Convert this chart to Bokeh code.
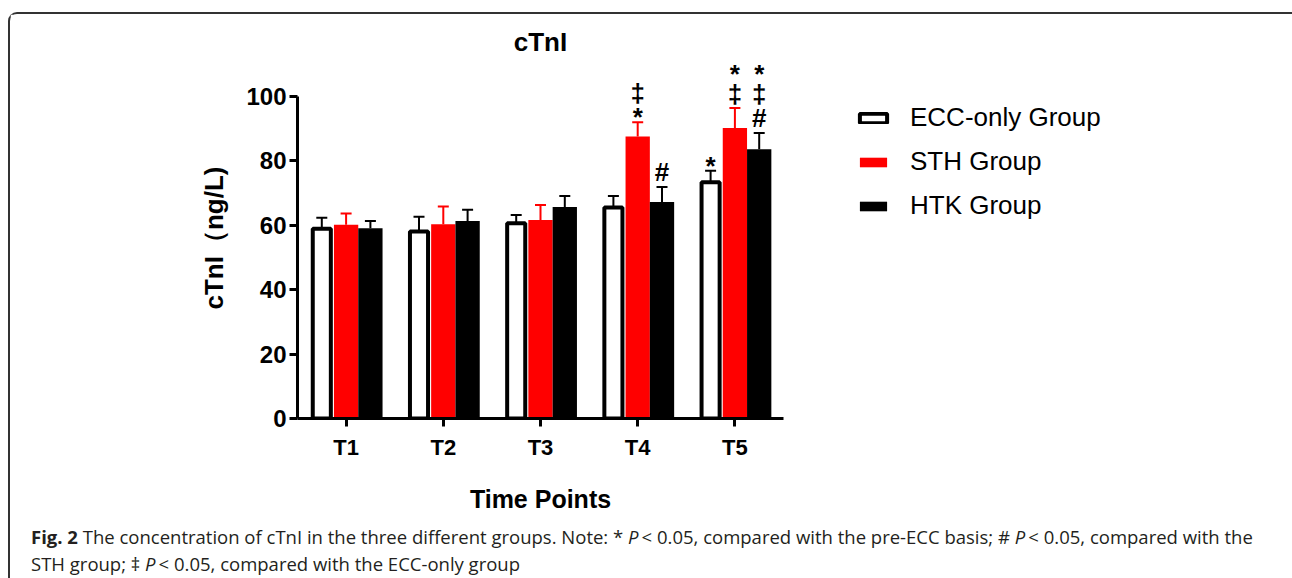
from bokeh.plotting import figure
from bokeh.layouts import column
from bokeh.models import (FactorRange, ColumnDataSource, Whisker, TeeHead, Legend,
                          LegendItem, FixedTicker, Div)
from bokeh.transform import dodge
from bokeh.embed import file_html
from bokeh.resources import INLINE
from bokeh.core.properties import value

# ---------------- data ----------------
time_points = ["T1", "T2", "T3", "T4", "T5"]
groups = ["ECC-only Group", "STH Group", "HTK Group"]
ecc_mean = [58.9, 58.0, 60.6, 65.5, 73.3]
ecc_sd = [3.4, 4.6, 2.5, 3.5, 3.6]
sth_mean = [60.1, 60.3, 61.6, 87.5, 90.1]
sth_sd = [3.5, 5.5, 4.6, 4.4, 6.2]
htk_mean = [59.0, 61.3, 65.6, 67.2, 83.5]
htk_sd = [2.3, 3.5, 3.4, 4.6, 5.1]
# significance marks, listed bottom to top
ecc_marks = ["", "", "", "", "*"]
sth_marks = ["", "", "", "*‡", "‡*"]
htk_marks = ["", "", "", "#", "#‡*"]
y_ticks = [0, 20, 40, 60, 80, 100]

FONT = "Liberation Sans"
# page offset of the content box (margin + border)
OX, OY = 10, 14
W, H = 1278, 504
FRAME_L, FRAME_T, FRAME_W, FRAME_H = 297 - OX, 57 - OY, 486, 361
FRAME_B = FRAME_T + FRAME_H

p = figure(x_range=FactorRange(*time_points), y_range=(0, 112),
           frame_width=FRAME_W, frame_height=FRAME_H,
           min_border_left=FRAME_L, min_border_right=W - FRAME_L - FRAME_W,
           min_border_top=FRAME_T, min_border_bottom=H - FRAME_B,
           output_backend="svg", toolbar_location=None, title="cTnI")
p.outline_line_color = None
p.xgrid.visible = False
p.ygrid.visible = False
p.background_fill_color = "white"
p.border_fill_color = "white"

p.title.align = "center"
p.title.text_font = FONT
p.title.text_font_style = "bold"
p.title.text_font_size = "26px"
p.title.text_color = "black"
p.title.standoff = 1

specs = [
    (groups[0], ecc_mean, ecc_sd, ecc_marks, -0.25, 0.186, "white", "black", 4, "black"),
    (groups[1], sth_mean, sth_sd, sth_marks, 0.0, 0.25, "#ff0000", "#ff0000", 0, "#ff0000"),
    (groups[2], htk_mean, htk_sd, htk_marks, 0.25, 0.25, "black", "black", 0, "black"),
]

# stacking metrics of the significance symbols (pixels)
below = {"*": 7, "‡": 12, "#": 12}
above = {"*": 7, "‡": 16, "#": 12}
adj = {"*": 5, "‡": 1, "#": 0}

legend_items = []
for name, mean, sd, marks, off, w, fill, line, lw, ecol in specs:
    upper = [m + s for m, s in zip(mean, sd)]
    src = ColumnDataSource(dict(tp=time_points, mean=mean, upper=upper))
    xs = dodge("tp", off, range=p.x_range)
    r = p.vbar(x=xs, top="mean", bottom=0, width=w, source=src,
               fill_color=fill, line_color=line if lw else None, line_width=lw if lw else 1)
    legend_items.append(LegendItem(label=name, renderers=[r]))
    wh = Whisker(source=src, base=xs, upper="upper", lower="mean",
                 line_color=ecol, line_width=2,
                 upper_head=TeeHead(size=11, line_color=ecol, line_width=2),
                 lower_head=None)
    p.add_layout(wh)
    mx, my, mt, mo = [], [], [], []
    for tp, u, ms in zip(time_points, upper, marks):
        cursor = 3
        for s in ms:
            c = cursor + below[s]
            cursor = c + above[s] + 1
            mx.append(tp); my.append(u); mt.append(s); mo.append(-c + adj[s])
    if mt:
        msrc = ColumnDataSource(dict(tp=mx, y=my, sym=mt, yoff=mo))
        p.text(x=dodge("tp", off, range=p.x_range), y="y", text="sym", y_offset="yoff",
               source=msrc, text_align="center", text_baseline="middle",
               text_font=value(FONT), text_font_style="bold", text_font_size="26px",
               text_color="black")

for ax in (p.xaxis[0], p.yaxis[0]):
    ax.axis_line_width = 3
    ax.axis_line_color = "black"
    ax.major_tick_line_width = 3
    ax.major_tick_line_color = "black"
    ax.major_tick_out = 8
    ax.major_tick_in = 0
    ax.minor_tick_line_color = None
    ax.major_label_text_font = FONT
    ax.major_label_text_font_style = "bold"
    ax.major_label_text_color = "black"
    ax.axis_label_text_font = FONT
    ax.axis_label_text_font_style = "bold"
    ax.axis_label_text_color = "black"

p.yaxis.ticker = FixedTicker(ticks=y_ticks)
p.yaxis.bounds = (0, 100)
p.yaxis.major_label_text_font_size = "24px"
p.yaxis.major_label_standoff = 3
p.yaxis.axis_label = "cTnI（ng/L)"
p.yaxis.axis_label_text_font_size = "26px"
p.yaxis.axis_label_standoff = 14

p.xaxis.major_label_text_font_size = "22px"
p.xaxis.major_label_standoff = 8
p.xaxis.axis_label = "Time Points"
p.xaxis.axis_label_text_font_size = "25px"
p.xaxis.axis_label_standoff = 22

legend = Legend(items=legend_items, location=(73, 197), orientation="vertical",
                glyph_width=34, glyph_height=12, label_height=24, spacing=13,
                label_standoff=20, padding=0, margin=0,
                label_text_font=FONT, label_text_font_size="26px", label_text_color="black",
                border_line_color=None, background_fill_alpha=0)
p.add_layout(legend, "right")

# ---------------- caption ----------------
CAP_H = 58
caption_html = (
    '<div style="font-family:\'Open Sans\'; font-size:18.5px; line-height:27px; '
    'color:#231f20; padding-left:16px; padding-top:0px; white-space:nowrap;">'
    '<b>Fig. 2</b> The concentration of cTnI in the three different groups. '
    'Note: * <i>P</i>&thinsp;&lt; 0.05, compared with the pre-ECC basis; '
    '# <i>P</i>&thinsp;&lt; 0.05, compared with the<br>'
    'STH group; &Dagger; <i>P</i>&thinsp;&lt; 0.05, compared with the ECC-only group'
    '</div>'
)
cap = Div(text=caption_html, width=W, height=CAP_H)

layout = column(p, cap, spacing=0,
                styles={"margin": "12px 0 0 8px", "border": "2px solid #333333",
                        "border-bottom": "none", "border-radius": "9px 9px 0 0"})

open("out.html", "w").write(file_html(layout, INLINE))
